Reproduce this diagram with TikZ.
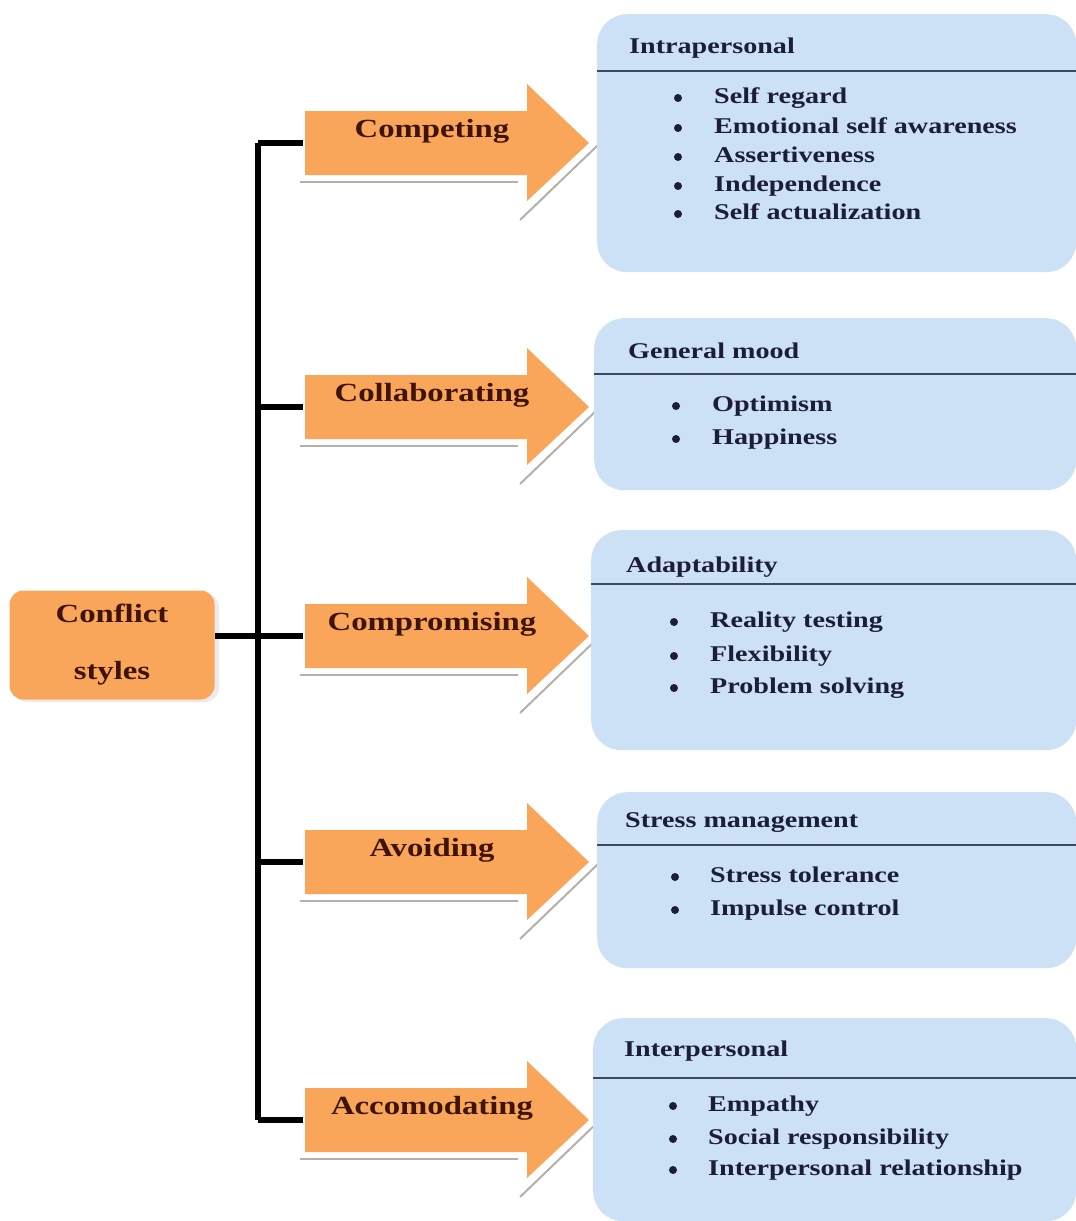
\documentclass[tikz,border=0pt]{standalone}
\usepackage{fontspec}
\setmainfont{Liberation Serif}
\newfontfamily\widefont[FakeStretch=1.25]{Liberation Serif}
\definecolor{orfill}{HTML}{F9A65A}
\definecolor{ortext}{HTML}{3F1406}
\definecolor{blfill}{HTML}{CDE1F6}
\definecolor{bltext}{HTML}{1C1D38}
\definecolor{hdline}{HTML}{3C4A5C}
\definecolor{shadowgray}{HTML}{B4B0AA}
\tikzset{
  trunk/.style={line width=5.5pt, black},
  arrowbody/.style={fill=orfill},
  arrowshadow/.style={draw=shadowgray, line width=2pt},
  arrowtext/.style={font=\widefont\fontsize{26.2}{30}\selectfont\bfseries, text=ortext, inner sep=0pt},
  bluebox/.style={fill=blfill, rounded corners=30pt, draw=none, inner sep=0pt},
  boxtitle/.style={font=\widefont\fontsize{22.5}{26}\selectfont\bfseries, text=bltext, anchor=west, inner sep=0pt},
  itemtext/.style={font=\widefont\fontsize{22.5}{26}\selectfont\bfseries, text=bltext, anchor=west, inner sep=0pt, text height=15pt, text depth=5pt},
  bullet/.style={circle, fill=bltext, inner sep=0pt, minimum size=8pt},
  header/.style={draw=hdline, line width=1.3pt},
}
\newcommand\stylearrow[3]{%
  \draw[arrowshadow] (300,#2+39) -- (518,#2+39);
  \draw[arrowshadow] (520,#2+77) -- (598,#2+2);
  \fill[arrowbody] (305,#2-32) -- (527,#2-32) -- (527,#2-59) -- (589,#2) -- (527,#2+58) -- (527,#2+32) -- (305,#2+32) -- cycle;
  \coordinate (#1tail) at (303,#2);
  \node[arrowtext] (#1) at (432,#2-12) {#3};
}
\begin{document}
\begin{tikzpicture}[x=1pt,y=-1pt]
\useasboundingbox (0,0) rectangle (1076,1221);

% root box
\fill[shadowgray!25, rounded corners=14pt] (13,593) rectangle (219,702);
\node[fill=orfill, rounded corners=14pt, minimum width=205pt, minimum height=109pt, inner sep=0pt,
      font=\widefont\fontsize{26.2}{57}\selectfont\bfseries, text=ortext, align=center] (root) at (112,645)
      {Conflict\\styles};

% arrows
\stylearrow{a1}{143}{Competing}
\stylearrow{a2}{407}{Collaborating}
\stylearrow{a3}{636}{Compromising}
\stylearrow{a4}{862}{Avoiding}
\stylearrow{a5}{1120}{Accomodating}

% trunk
\coordinate (top) at (258,143);
\coordinate (bot) at (258,1120);
\coordinate (mid) at (258,636);
\draw[trunk] (top) -- (bot);
\draw[trunk] (root.east |- mid) -- (a3tail);
\draw[trunk] (top) -- (a1tail);
\draw[trunk] (258,407) -- (a2tail);
\draw[trunk] (258,862) -- (a4tail);
\draw[trunk] (bot) -- (a5tail);

% box 1
\node[bluebox, anchor=north west, minimum width=479pt, minimum height=258pt] (b1) at (597,14) {};
\draw[header] (b1.west |- 0,71) -- (b1.east |- 0,71);
\node[boxtitle] (t1) at (629,48) {Intrapersonal};
\foreach \y/\t [count=\i] in {98/Self regard,128/Emotional self awareness,157/Assertiveness,186/Independence,214/Self actualization}{
  \node[bullet] (b1d\i) at (678,\y) {};
  \node[itemtext] (b1i\i) at (714,\y) {\t};
}

% box 2
\node[bluebox, anchor=north west, minimum width=482pt, minimum height=172pt] (b2) at (594,318) {};
\draw[header] (b2.west |- 0,374) -- (b2.east |- 0,374);
\node[boxtitle] (t2) at (628,351) {General mood};
\foreach \y/\t [count=\i] in {406/Optimism,439/Happiness}{
  \node[bullet] (b2d\i) at (676,\y) {};
  \node[itemtext] (b2i\i) at (712,\y) {\t};
}

% box 3
\node[bluebox, anchor=north west, minimum width=485pt, minimum height=220pt] (b3) at (591,530) {};
\draw[header] (b3.west |- 0,584) -- (b3.east |- 0,584);
\node[boxtitle] (t3) at (626,567) {Adaptability};
\foreach \y/\t [count=\i] in {622/Reality testing,656/Flexibility,688/Problem solving}{
  \node[bullet] (b3d\i) at (674,\y) {};
  \node[itemtext] (b3i\i) at (710,\y) {\t};
}

% box 4
\node[bluebox, anchor=north west, minimum width=479pt, minimum height=176pt] (b4) at (597,792) {};
\draw[header] (b4.west |- 0,845) -- (b4.east |- 0,845);
\node[boxtitle] (t4) at (625,823) {Stress management};
\foreach \y/\t [count=\i] in {877/Stress tolerance,910/Impulse control}{
  \node[bullet] (b4d\i) at (675,\y) {};
  \node[itemtext] (b4i\i) at (710,\y) {\t};
}

% box 5
\node[bluebox, anchor=north west, minimum width=483pt, minimum height=203pt] (b5) at (593,1018) {};
\draw[header] (b5.west |- 0,1078) -- (b5.east |- 0,1078);
\node[boxtitle] (t5) at (624,1051) {Interpersonal};
\foreach \y/\t [count=\i] in {1106/Empathy,1139/Social responsibility,1170/Interpersonal relationship}{
  \node[bullet] (b5d\i) at (673,\y) {};
  \node[itemtext] (b5i\i) at (708,\y) {\t};
}
\end{tikzpicture}
\end{document}
